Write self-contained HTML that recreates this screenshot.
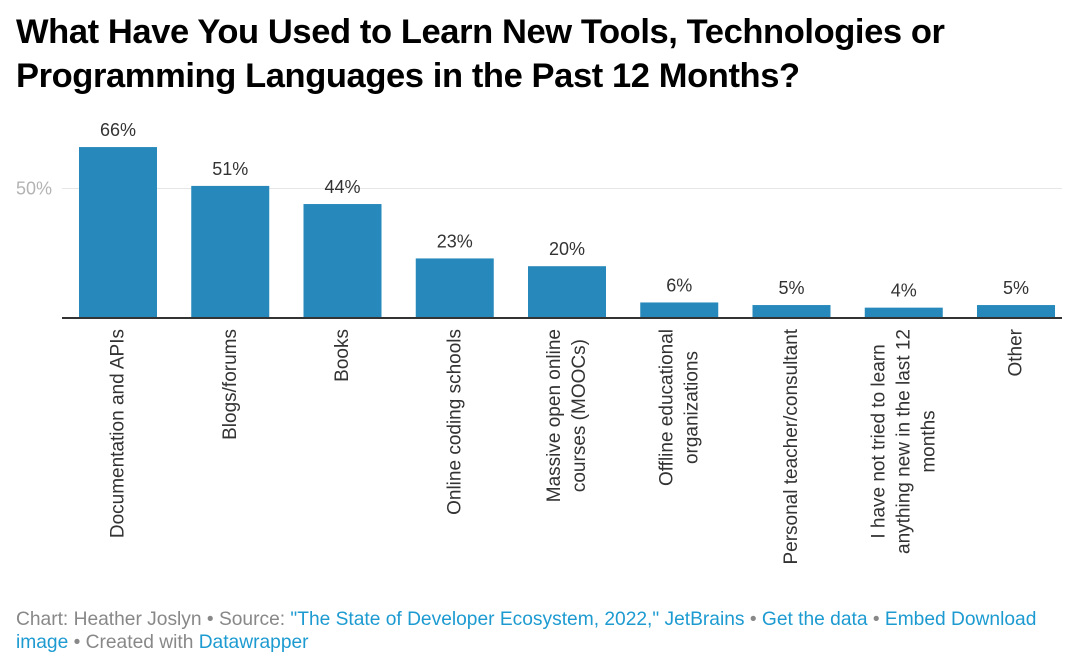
<!DOCTYPE html>
<html><head><meta charset="utf-8"><style>
body{margin:0;background:#fff;font-family:"Liberation Sans",Arial,sans-serif;}
#wrap{position:relative;width:1080px;height:662px;overflow:hidden;}
h1{position:absolute;left:16px;top:10px;margin:0;font-size:34.5px;line-height:44px;font-weight:bold;color:#000;letter-spacing:-0.4px;white-space:nowrap;}
.foot{position:absolute;left:16px;top:608px;font-size:19.2px;line-height:23px;color:#888;white-space:nowrap;}
.foot a{color:#1d9bd1;text-decoration:none;}
</style></head><body>
<div id="wrap">
<h1>What Have You Used to Learn New Tools, Technologies or<br>Programming Languages in the Past 12 Months?</h1>
<svg id="chart" width="1080" height="662" style="position:absolute;left:0;top:0"></svg>
<div class="foot">Chart: Heather Joslyn • Source: <a>"The State of Developer Ecosystem, 2022," JetBrains</a> • <a>Get the data</a> • <a>Embed</a> <a>Download</a><br><a>image</a> • Created with <a>Datawrapper</a></div>
</div>
<script>
const categories=[["Documentation and APIs"],["Blogs/forums"],["Books"],["Online coding schools"],["Massive open online","courses (MOOCs)"],["Offline educational","organizations"],["Personal teacher/consultant"],["I have not tried to learn","anything new in the last 12","months"],["Other"]];
const values=[66,51,44,23,20,6,5,4,5];
const ticks=[50];
const NS="http://www.w3.org/2000/svg";
const svg=document.getElementById('chart');
const baseY=318,pxPer=2.59,x0=79,step=112.25,bw=78;
const y=v=>baseY-v*pxPer;
const xb=i=>x0+i*step;
function mk(t,a){const e=document.createElementNS(NS,t);for(const k in a)e.setAttribute(k,a[k]);svg.appendChild(e);return e;}
ticks.forEach(t=>{
 const g=mk('line',{x1:62,x2:1062,y1:y(t),y2:y(t),stroke:'#e6e6e6','stroke-width':1});
 
 
 const l=mk('text',{x:16,y:y(t)+6,fill:'#b3b3b3','font-size':18});
 l.textContent=t+'%';
 
 
});
values.forEach((v,i)=>{
 const r=mk('rect',{x:xb(i),y:y(v),width:bw,height:baseY-y(v),fill:'#2789bb'});
 
 
 const t=mk('text',{x:xb(i)+bw/2,y:y(v)-11,'text-anchor':'middle',fill:'#333','font-size':18});
 t.textContent=v+'%';
 
 
 const lines=categories[i],cx=xb(i)+bw/2,lh=25;
 const els=lines.map((s,j)=>{
  const c=mk('text',{x:0,y:0,'text-anchor':'middle','dominant-baseline':'central',fill:'#333','font-size':19});
  c.textContent=s;
  
  
  return c;
 });
 const maxW=Math.max(...els.map(e=>e.getComputedTextLength()));
 els.forEach((c,j)=>{
  const lx=cx+(j-(lines.length-1)/2)*lh;
  c.setAttribute('transform',`translate(${lx},${329+maxW/2}) rotate(-90)`);
 });
});
const ax=mk('line',{x1:62,x2:1062,y1:baseY,y2:baseY,stroke:'#333','stroke-width':2});


</script>
</body></html>
